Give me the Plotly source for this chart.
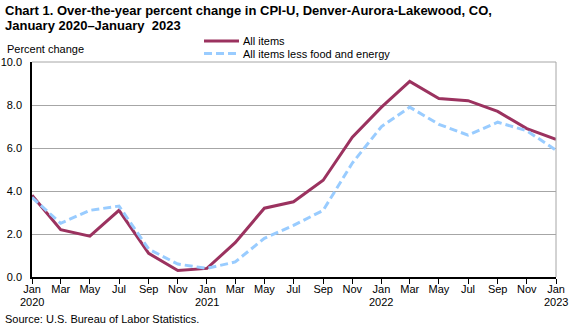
import plotly.graph_objects as go

# Bimonthly observation dates, January 2020 through January 2023
dates = [
    "2020-01-01", "2020-03-01", "2020-05-01", "2020-07-01", "2020-09-01", "2020-11-01",
    "2021-01-01", "2021-03-01", "2021-05-01", "2021-07-01", "2021-09-01", "2021-11-01",
    "2022-01-01", "2022-03-01", "2022-05-01", "2022-07-01", "2022-09-01", "2022-11-01",
    "2023-01-01",
]

# Over-the-year percent change, CPI-U Denver-Aurora-Lakewood
all_items = [3.8, 2.2, 1.9, 3.1, 1.1, 0.3, 0.4, 1.6, 3.2, 3.5, 4.5, 6.5,
             7.9, 9.1, 8.3, 8.2, 7.7, 6.9, 6.4]
core_items = [3.7, 2.5, 3.1, 3.3, 1.3, 0.6, 0.4, 0.7, 1.8, 2.4, 3.1, 5.3,
              7.0, 7.9, 7.1, 6.6, 7.2, 6.8, 5.9]

month_labels = ["Jan", "Mar", "May", "Jul", "Sep", "Nov"] * 3 + ["Jan"]
year_dates = ["2020-01-01", "2021-01-01", "2022-01-01", "2023-01-01"]
year_labels = ["2020", "2021", "2022", "2023"]
y_ticks = [0, 2, 4, 6, 8, 10]

series_names = ["All items", "All items less food and energy"]
series_colors = ["#9B325F", "#99CCFF"]
series_dash = ["solid", "8px,4px"]

FONT = "Liberation Sans, Arial, sans-serif"
W, H = 576, 326
L, R, T, B = 32, 20, 62, 49
PW, PH = W - L - R, H - T - B


def px_x(p):
    """Pixel column -> paper x."""
    return (p - L) / PW


def px_y(p):
    """Pixel row -> paper y."""
    return (H - B - p) / PH


fig = go.Figure()
for vals, name, color, dash in zip([all_items, core_items], series_names,
                                   series_colors, series_dash):
    fig.add_trace(go.Scatter(
        x=dates, y=vals, name=name, mode="lines",
        line=dict(color=color, width=3, dash=dash),
    ))

annotations = [
    dict(text="<b>Chart 1. Over-the-year percent change in CPI-U, Denver-Aurora-Lakewood, CO,</b>",
         x=px_x(3), y=px_y(11), font=dict(size=13)),
    dict(text="<b>January 2020\u2013January  2023</b>",
         x=px_x(3), y=px_y(25.5), font=dict(size=13)),
    dict(text="Percent change", x=px_x(5), y=px_y(49)),
    dict(text="Source: U.S. Bureau of Labor Statistics.", x=px_x(3), y=px_y(319)),
]
for d, lab in zip(year_dates, year_labels):
    annotations.append(dict(text=lab, x=d, xref="x", xanchor="center",
                            y=px_y(302)))

shapes = [
    # gray frame on top and right edges of the plot area
    dict(type="line", xref="paper", yref="paper", x0=0, x1=1, y0=1, y1=1,
         line=dict(color="#A6A6A6", width=1)),
    dict(type="line", xref="paper", yref="paper", x0=1, x1=1, y0=0, y1=1,
         line=dict(color="#A6A6A6", width=1)),
]

# legend keys
for i, (name, color, dash) in enumerate(zip(series_names, series_colors, series_dash)):
    row = 41 + 12.5 * i
    shapes.append(dict(type="line", xref="paper", yref="paper",
                       x0=px_x(204), x1=px_x(239), y0=px_y(row), y1=px_y(row),
                       line=dict(color=color, width=3, dash=dash)))
    annotations.append(dict(text=name, x=px_x(241), y=px_y(row)))

for a in annotations:
    a.setdefault("xref", "paper")
    a.setdefault("yref", "paper")
    a.setdefault("xanchor", "left")
    a.setdefault("yanchor", "middle")
    a.setdefault("showarrow", False)
    a.setdefault("font", dict(size=11))
    a["font"].setdefault("family", FONT)
    a["font"].setdefault("color", "black")

fig.update_layout(
    width=W, height=H,
    margin=dict(l=L, r=R, t=T, b=B, autoexpand=False),
    paper_bgcolor="white", plot_bgcolor="white",
    font=dict(family=FONT, size=11, color="black"),
    showlegend=False,
    xaxis=dict(
        range=["2020-01-01", "2023-01-01"],
        tickvals=dates, ticktext=month_labels, tickangle=0,
        ticks="outside", ticklen=5, tickcolor="black", tickwidth=1,
        showline=True, linecolor="black", linewidth=1.5,
        showgrid=False, zeroline=False, automargin=False,
        ticklabelstandoff=-4,
        tickfont=dict(size=11),
    ),
    yaxis=dict(
        range=[0, 10], tickvals=y_ticks,
        ticktext=[f"{v:.1f}" for v in y_ticks],
        showline=True, linecolor="black", linewidth=1.5,
        showgrid=True, gridcolor="#A6A6A6", gridwidth=1,
        zeroline=False, ticks="outside", ticklen=6,
        tickcolor="rgba(0,0,0,0)", automargin=False,
        tickfont=dict(size=11),
    ),
    annotations=annotations,
    shapes=shapes,
)

fig.write_html("out.html")
